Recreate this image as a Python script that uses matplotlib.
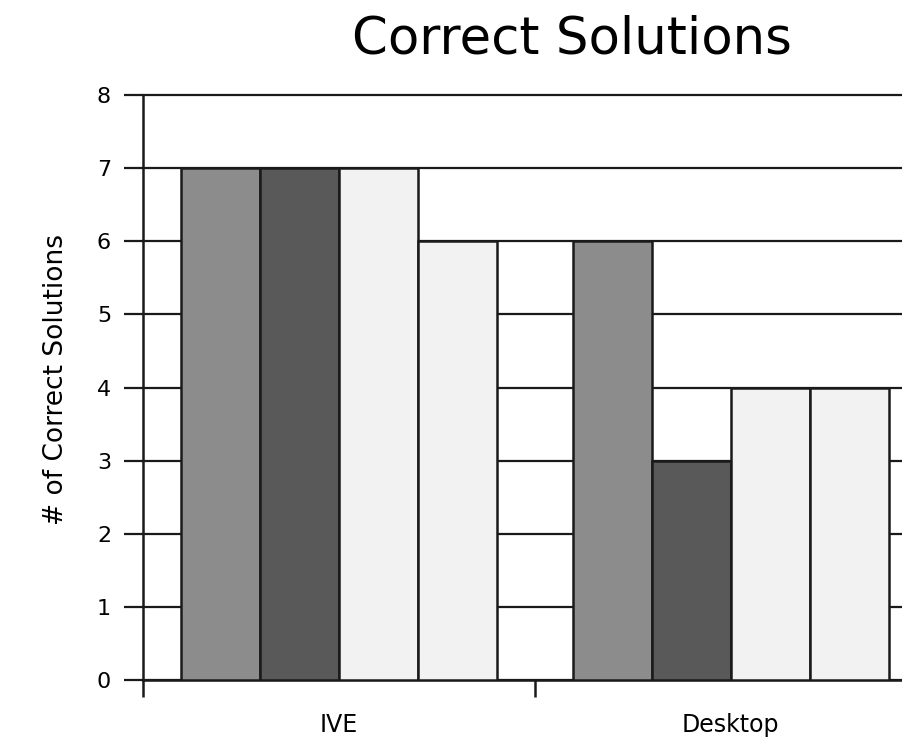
import matplotlib
matplotlib.use("Agg")
import matplotlib.pyplot as plt
import numpy as np

groups = ["IVE", "Desktop"]
series_a = [7, 6]   # medium gray
series_b = [7, 3]   # dark gray
series_c = [7, 4]   # light
series_d = [6, 4]   # light
colors = ["#8c8c8c", "#595959", "#f2f2f2", "#f2f2f2"]

fig = plt.figure(figsize=(9.03, 7.39), dpi=100)
ax = fig.add_axes([0.1584, 0.0798, 0.8416, 0.7916])

x = np.arange(len(groups))
w = 0.2015
for i, (vals, c) in enumerate(zip([series_a, series_b, series_c, series_d], colors)):
    ax.bar(x + (i - 1.5) * w, vals, w, color=c, edgecolor="#1a1a1a",
           linewidth=1.8, zorder=3)

ax.set_ylim(0, 8)
ax.set_xlim(-0.5, 1.44)
ax.set_yticks(range(9))
ax.yaxis.grid(True, color="#1a1a1a", linewidth=1.6, zorder=1)
ax.set_axisbelow(True)
for gl in ax.get_ygridlines():
    gl.set_clip_on(False)

for s in ["top", "right"]:
    ax.spines[s].set_visible(False)
for s in ["left", "bottom"]:
    ax.spines[s].set_linewidth(1.8)
    ax.spines[s].set_color("#1a1a1a")

ax.set_xticks(x)
ax.set_xticklabels(groups, fontsize=17)
ax.set_xticks([-0.5, 0.5], minor=True)
ax.tick_params(axis="x", which="major", length=0, pad=24)
ax.tick_params(axis="x", which="minor", length=12, width=1.8, color="#1a1a1a")
ax.tick_params(axis="y", length=14, width=1.6, color="#1a1a1a", labelsize=16, pad=9)

ax.set_ylabel("# of Correct Solutions", fontsize=19)
ax.yaxis.set_label_coords(-0.097, 0.513)
ax.set_title("Correct Solutions", fontsize=37, x=0.564, y=1.0, pad=30)

fig.savefig("out.png", dpi=100)
